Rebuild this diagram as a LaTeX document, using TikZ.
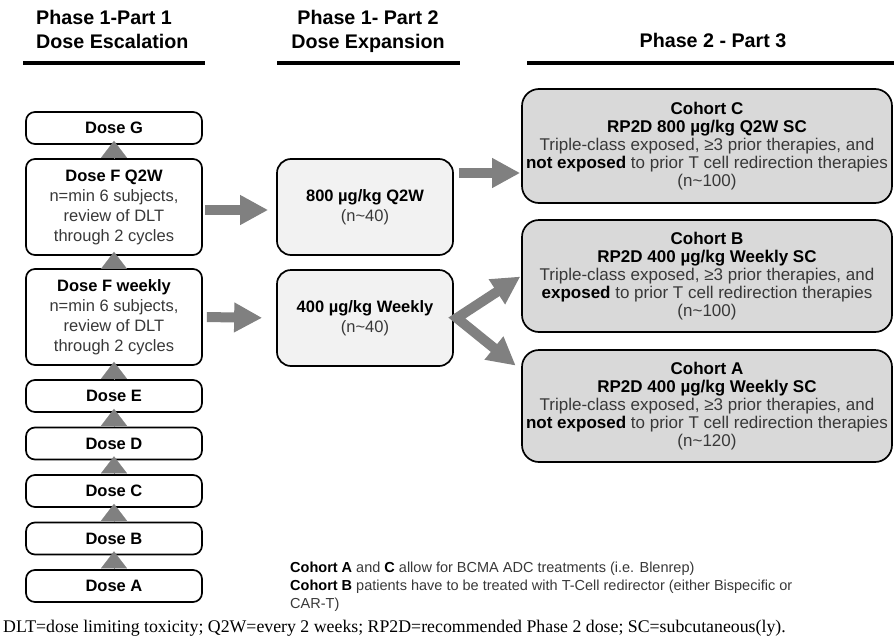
\documentclass[tikz,border=0pt]{standalone}
\usepackage{fontspec}
\setmainfont{Liberation Sans}
\newfontfamily\notefont{Liberation Serif}
\usetikzlibrary{arrows.meta,positioning}

\definecolor{arrgray}{HTML}{808080}
\definecolor{midfill}{HTML}{F2F2F2}
\definecolor{cohfill}{HTML}{D9D9D9}
\definecolor{bodytxt}{HTML}{383838}
\newcommand{\bk}[1]{{\color{black}\bfseries #1}}

\tikzset{
  headtxt/.style={font=\fontsize{19.7}{24}\selectfont\bfseries,inner sep=0pt,align=center},
  headrule/.style={line width=4.5pt},
  dosebox/.style={draw,line width=1.7pt,rounded corners=9pt,minimum width=176pt,minimum height=32pt,
    align=center,inner sep=0pt,text=bodytxt,font=\fontsize{16.5}{20}\selectfont},
  bigdose/.style={dosebox,minimum height=96pt},
  expbox/.style={dosebox,fill=midfill,rounded corners=14pt,minimum height=96pt},
  cohbox/.style={dosebox,fill=cohfill,rounded corners=17pt,minimum width=370pt,
    font=\fontsize{17}{18}\selectfont},
  steparr/.style={arrgray,line width=0.1pt,-{Triangle[length=17pt,width=26pt]},shorten >=-4pt},
  bigarr/.style={arrgray,line width=10pt,-{Triangle[length=28pt,width=28pt]}}
}

\begin{document}
\begin{tikzpicture}[x=1pt,y=-1pt]
\useasboundingbox (0,0) rectangle (894,640);

% headers
\node[headtxt,align=left,anchor=north west] (hd1) at (36,10) {Phase 1-Part 1\\Dose Escalation};
\node[headtxt,anchor=north] (hd2) at (368,10) {Phase 1- Part 2\\Dose Expansion};
\node[headtxt] (hd3) at (713,40) {Phase 2 - Part 3};
\draw[headrule] (23,63) -- (205,63) (277,63) -- (460,63) (527,63) -- (894,63);

% dose escalation
\node[dosebox] (doseG) at (114,128) {\bk{Dose G}};
\node[bigdose] (doseFq) at (114,207) {\bk{Dose F Q2W}\\n=min 6 subjects,\\review of DLT\\through 2 cycles};
\node[bigdose] (doseFw) at (114,317) {\bk{Dose F weekly}\\n=min 6 subjects,\\review of DLT\\through 2 cycles};
\node[dosebox] (doseE) at (114,396) {\bk{Dose E}};
\node[dosebox] (doseD) at (114,443.5) {\bk{Dose D}};
\node[dosebox] (doseC) at (114,491) {\bk{Dose C}};
\node[dosebox] (doseB) at (114,538.5) {\bk{Dose B}};
\node[dosebox] (doseA) at (114,586) {\bk{Dose A}};

% dose expansion
\node[expbox] (exp800) at (365,207) {\bk{800 µg/kg Q2W}\\(n\textasciitilde40)};
\node[expbox] (exp400) at (365,318) {\bk{400 µg/kg Weekly}\\(n\textasciitilde40)};

% phase 2
\node[cohbox,minimum height=114pt] (cohC) at (707,146) {\bk{Cohort C}\\\bk{RP2D 800 µg/kg Q2W SC}\\Triple-class exposed, ≥3 prior therapies, and\\\bk{not exposed} to prior T cell redirection therapies\\(n\textasciitilde100)};
\node[cohbox,minimum height=112pt] (cohB) at (707,276) {\bk{Cohort B}\\\bk{RP2D 400 µg/kg Weekly SC}\\Triple-class exposed, ≥3 prior therapies, and\\\bk{exposed} to prior T cell redirection therapies\\(n\textasciitilde100)};
\node[cohbox,minimum height=112pt] (cohA) at (707,406) {\bk{Cohort A}\\\bk{RP2D 400 µg/kg Weekly SC}\\Triple-class exposed, ≥3 prior therapies, and\\\bk{not exposed} to prior T cell redirection therapies\\(n\textasciitilde120)};

\foreach \lo/\hi in {doseA/doseB,doseB/doseC,doseC/doseD,doseD/doseE,doseE/doseFw,doseFw/doseFq,doseFq/doseG}
  \draw[steparr] (\lo.north) -- (\hi.south);

\draw[bigarr,shorten <=2pt,shorten >=8pt] ([yshift=-3pt]doseFq.east) -- ([yshift=-3pt]exp800.west);
\draw[bigarr,shorten <=4pt,shorten >=14pt] (doseFw.east) -- (exp400.west);
\draw[bigarr,shorten <=5pt,shorten >=1pt] ([yshift=34pt]exp800.east) -- ([yshift=-27pt]cohC.west);
\coordinate (fork) at ([xshift=3pt]exp400.east);
\draw[bigarr,{Triangle[length=28pt,width=28pt]}-{Triangle[length=28pt,width=28pt]},shorten <=1pt,shorten >=7pt]
  (cohB.west) -- (fork) -- ([yshift=36pt]cohA.west);

% notes
\node[anchor=north west,align=left,inner sep=0pt,text=bodytxt,font=\fontsize{14.5}{18}\selectfont] (note) at (290,562)
  {\bk{Cohort A} and \bk{C} allow for BCMA ADC treatments (i.e. Blenrep)\\
   \bk{Cohort B} patients have to be treated with T-Cell redirector (either Bispecific or\\CAR-T)};
\node[anchor=west,inner sep=0pt,font=\notefont\fontsize{17.8}{20}\selectfont] (abbr) at (3,628)
  {DLT=dose limiting toxicity; Q2W=every 2 weeks; RP2D=recommended Phase 2 dose; SC=subcutaneous(ly).};
\end{tikzpicture}
\end{document}
